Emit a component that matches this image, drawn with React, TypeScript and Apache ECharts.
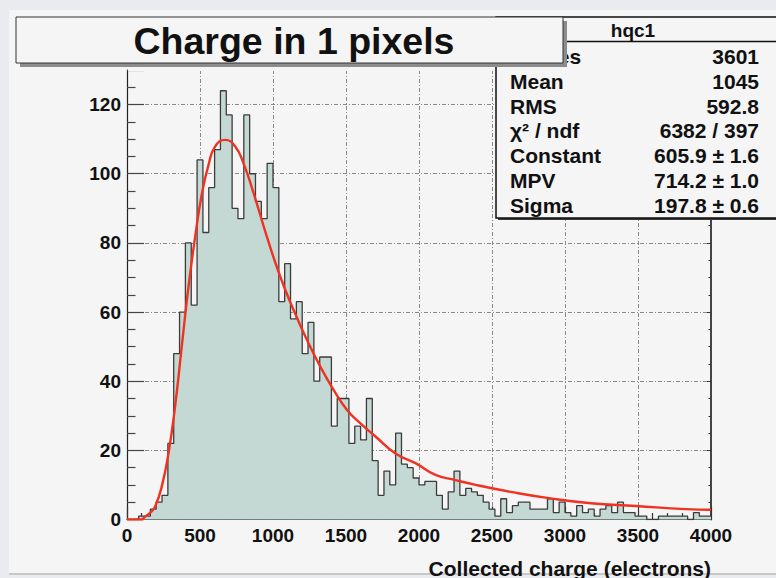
import React, { useEffect, useRef } from 'react';
import * as echarts from 'echarts';

// ---- data ----
const BIN_WIDTH = 40; // electrons per bin, 100 bins over 0..4000
const binCounts = [
  0, 0, 1, 1, 3, 5, 7, 22, 48, 60,
  80, 62, 104, 83, 96, 107, 124, 117, 90, 87,
  117, 100, 92, 87, 103, 96, 63, 74, 58, 63,
  48, 57, 40, 47, 47, 27, 35, 35, 22, 27,
  23, 35, 17, 7, 14, 10, 25, 16, 15, 12,
  10, 11, 11, 7, 3, 8, 14, 7, 9, 8,
  7, 5, 3, 1, 6, 2, 4, 5, 5, 3,
  3, 3, 6, 2, 5, 2, 1, 4, 2, 3,
  1, 3, 4, 2, 5, 2, 2, 1, 1, 0,
  0, 1, 1, 1, 1, 1, 0, 2, 1, 1,
];

// Landau fit curve
const fitCharge = [0, 100, 123, 160, 192, 238, 284, 329, 375, 421, 467, 512, 558, 604, 672, 741, 798, 867, 958, 1050, 1141, 1233, 1324, 1415, 1507, 1599, 1702, 1839, 1976, 2113, 2250, 2388, 2628, 2902, 3177, 3485, 3828, 4000];
const fitValue = [0, 0, 0.8, 2, 3.7, 9.5, 19.1, 32.6, 50, 67.3, 81.8, 94, 102.5, 107.9, 109.8, 107.9, 103, 94.4, 81.8, 70.2, 60.6, 51.9, 44.2, 37.5, 31.7, 27.8, 24, 19.1, 16.3, 12.9, 11.4, 10, 8, 6.1, 4.7, 3.9, 3, 2.8];

const titleText = 'Charge in 1 pixels';
const histName = 'hqc1';
const xAxisTitle = 'Collected charge (electrons)';
const statsLabels = ['Entries', 'Mean', 'RMS', 'χ² / ndf', 'Constant', 'MPV', 'Sigma'];
const statsValues = ['3601', '1045', '592.8', '6382 / 397', '605.9 ± 1.6', '714.2 ± 1.0', '197.8 ± 0.6'];

const X_MIN = 0;
const X_MAX = 4000;
const X_STEP = 500;
const Y_MIN = 0;
const Y_MAX = 130;
const Y_STEP = 20;

const FONT = '"Liberation Sans", Arial, Helvetica, sans-serif';

export default function App() {
  const ref = useRef<HTMLDivElement>(null);

  useEffect(() => {
    document.body.style.margin = '0';
    if (!ref.current) return;
    const chart = echarts.init(ref.current, undefined, { renderer: 'svg' });

    const histData: number[][] = binCounts.map((v, i) => [i * BIN_WIDTH, v]);
    histData.push([binCounts.length * BIN_WIDTH, binCounts[binCounts.length - 1]]);
    const fitData = fitCharge.map((x, i) => [x, fitValue[i]]);

    const gridLine = { show: true, lineStyle: { color: '#8a8a8a', width: 1, type: [4, 2, 1, 2] as number[] } };
    const axisLabelStyle = { color: '#111', fontSize: 19, fontWeight: 'bold' as const, fontFamily: FONT };
    const plain = (v: number) => String(v);

    const graphic: any[] = [
      // canvas border bands
      { type: 'rect', shape: { x: 0, y: 0, width: 776, height: 10 }, style: { fill: '#e9ebee' }, silent: true },
      { type: 'rect', shape: { x: 0, y: 0, width: 9, height: 578 }, style: { fill: '#e9ebee' }, silent: true },
      { type: 'rect', shape: { x: 9, y: 573, width: 767, height: 2 }, style: { fill: '#c8c8c8' }, silent: true },
      { type: 'rect', shape: { x: 9, y: 575, width: 767, height: 3 }, style: { fill: '#e9ebee' }, silent: true },
      // hide the top grid line (no frame top in the reference)
      { type: 'rect', z: 5, shape: { x: 128, y: 68.5, width: 582, height: 2.5 }, style: { fill: '#f5f5f5' }, silent: true },
      // stats box
      { type: 'rect', z: 100, shape: { x: 498, y: 19, width: 290, height: 201 }, style: { fill: '#3a3a3a' } },
      { type: 'rect', z: 100, shape: { x: 496, y: 17, width: 290, height: 201 }, style: { fill: '#f5f5f5', stroke: '#111', lineWidth: 1.5 } },
      { type: 'line', z: 100, shape: { x1: 496, y1: 41.5, x2: 776, y2: 41.5 }, style: { stroke: '#111', lineWidth: 1.5 } },
      { type: 'text', z: 101, x: 633, y: 30, style: { text: histName, fill: '#111', fontSize: 19, fontWeight: 'bold', fontFamily: FONT, align: 'center', verticalAlign: 'middle', textAlign: 'center', textVerticalAlign: 'middle' } },
    ];
    statsLabels.forEach((lab, i) => {
      const y = 56.5 + i * 24.8;
      graphic.push({ type: 'text', z: 101, x: 510, y, style: { text: lab, fill: '#111', fontSize: 21, fontWeight: 'bold', fontFamily: FONT, align: 'left', verticalAlign: 'middle', textAlign: 'left', textVerticalAlign: 'middle' } });
      graphic.push({ type: 'text', z: 101, x: 759, y, style: { text: statsValues[i], fill: '#111', fontSize: 21, fontWeight: 'bold', fontFamily: FONT, align: 'right', verticalAlign: 'middle', textAlign: 'right', textVerticalAlign: 'middle' } });
    });
    // title box (on top of the stats box)
    graphic.push(
      { type: 'rect', z: 110, shape: { x: 20, y: 21, width: 547, height: 46 }, style: { fill: '#8c8c8c' } },
      { type: 'rect', z: 111, shape: { x: 16, y: 17, width: 547, height: 46 }, style: { fill: '#f5f5f5', stroke: '#333', lineWidth: 1 } },
      { type: 'text', z: 112, x: 294, y: 41, style: { text: titleText, fill: '#111', fontSize: 37.5, fontWeight: 'bold', fontFamily: FONT, align: 'center', verticalAlign: 'middle', textAlign: 'center', textVerticalAlign: 'middle' } },
      { type: 'text', z: 10, x: 711, y: 568, style: { text: xAxisTitle, fill: '#111', fontSize: 21, fontWeight: 'bold', fontFamily: FONT, align: 'right', verticalAlign: 'middle', textAlign: 'right', textVerticalAlign: 'middle' } },
    );

    chart.setOption({
      animation: false,
      backgroundColor: '#f5f5f5',
      grid: { left: 127, right: 65, top: 70, bottom: 58.5, containLabel: false },
      xAxis: {
        type: 'value', min: X_MIN, max: X_MAX, interval: X_STEP,
        axisLine: { show: true, onZero: false, lineStyle: { color: '#222', width: 1.2 } },
        axisTick: { show: true, inside: true, length: 13, lineStyle: { color: '#333', width: 1.2 } },
        minorTick: { show: true, splitNumber: 5, length: 6.5, lineStyle: { color: '#333', width: 1.2 } },
        splitLine: gridLine,
        axisLabel: { ...axisLabelStyle, margin: 6, formatter: plain },
      },
      yAxis: [
        {
          type: 'value', min: Y_MIN, max: Y_MAX, interval: Y_STEP, position: 'left',
          axisLine: { show: true, onZero: false, lineStyle: { color: '#222', width: 1.2 } },
          axisTick: { show: true, inside: true, length: 17, lineStyle: { color: '#444', width: 1.2 } },
          minorTick: { show: true, splitNumber: 4, length: 8.5, lineStyle: { color: '#444', width: 1.2 } },
          splitLine: gridLine,
          axisLabel: { ...axisLabelStyle, margin: 6, showMaxLabel: false, formatter: plain },
        },
        {
          type: 'value', min: Y_MIN, max: Y_MAX, interval: Y_STEP, position: 'right',
          axisLine: { show: true, onZero: false, lineStyle: { color: '#444', width: 2 } },
          axisTick: { show: true, inside: true, length: 4, lineStyle: { color: '#333' } },
          minorTick: { show: true, splitNumber: 4, length: 2.5, lineStyle: { color: '#333' } },
          splitLine: { show: false },
          axisLabel: { show: false },
        },
      ],
      series: [
        {
          type: 'line', name: 'hist', data: histData, step: 'end', symbol: 'none', z: 2,
          lineStyle: { color: '#3c3c3c', width: 1.3 },
          areaStyle: { color: '#c4d9d3', opacity: 1 },
        },
        {
          type: 'line', name: 'fit', data: fitData, smooth: 0.5, symbol: 'none', z: 3,
          lineStyle: { color: '#ef3222', width: 2.4 },
        },
      ],
      graphic,
    });

    return () => chart.dispose();
  }, []);

  return <div ref={ref} style={{ width: 776, height: 578 }} />;
}
